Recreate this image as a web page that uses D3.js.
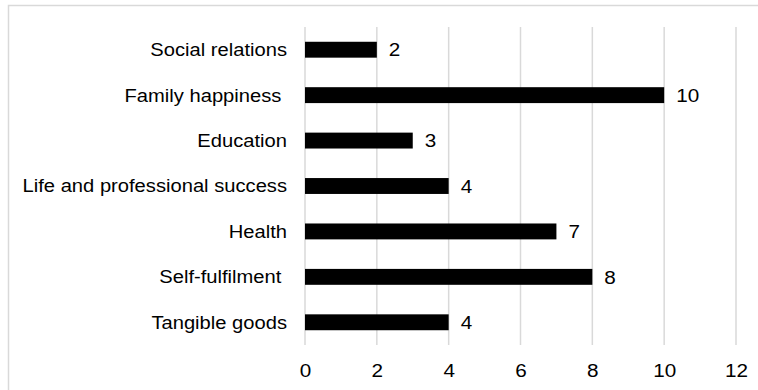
<!DOCTYPE html>
<html>
<head>
<meta charset="utf-8">
<script src="https://cdn.jsdelivr.net/npm/d3@7"></script>
<style>
  body { margin: 0; background: #fff; }
  text { font-family: "Liberation Sans", Arial, sans-serif; fill: #000; white-space: pre; }
</style>
</head>
<body>
<script>
// categories top to bottom, with their values
var categories = ["Social relations", "Family happiness ", "Education",
  "Life and professional success", "Health", "Self-fulfilment ", "Tangible goods"];
var values = [2, 10, 3, 4, 7, 8, 4];
var xTicks = [0, 2, 4, 6, 8, 10, 12];

var W = 758, H = 390;
var margin = {top: 27, right: 22, bottom: 45, left: 305};
var width = W - margin.left - margin.right,
    height = H - margin.top - margin.bottom;
var stretch = 1.09; // text in the original is a bit wider than Arial

var svg = d3.select("body").append("svg")
    .attr("width", W)
    .attr("height", H);

// chart border
svg.append("rect")
    .attr("x", 8.5).attr("y", 5.5)
    .attr("width", W).attr("height", H)
    .attr("fill", "none")
    .attr("stroke", "#d9d9d9")
    .attr("stroke-width", 1.5);

var g = svg.append("g")
    .attr("transform", "translate(" + margin.left + "," + margin.top + ")");

var x = d3.scaleLinear().domain([0, 12]).range([0, width]);
var y = d3.scaleBand().domain(categories).range([0, height]).paddingInner(0.65).paddingOuter(0.325);

// gridlines
g.selectAll(".grid")
    .data(xTicks)
  .enter().append("line")
    .attr("class", "grid")
    .attr("x1", function(d) { return x(d); })
    .attr("x2", function(d) { return x(d); })
    .attr("y1", 0)
    .attr("y2", height)
    .attr("stroke", "#d9d9d9")
    .attr("stroke-width", 1.5);

// bars
g.selectAll(".bar")
    .data(values)
  .enter().append("rect")
    .attr("class", "bar")
    .attr("x", x(0))
    .attr("y", function(d, i) { return y(categories[i]); })
    .attr("width", function(d) { return x(d) - x(0); })
    .attr("height", y.bandwidth())
    .attr("fill", "#000");

// value labels
g.selectAll(".val")
    .data(values)
  .enter().append("text")
    .attr("class", "val")
    .attr("transform", function(d, i) {
      return "translate(" + (x(d) + 12) + "," + (y(categories[i]) + y.bandwidth() / 2) + ") scale(" + stretch + ",1)";
    })
    .attr("dy", "0.35em")
    .style("font-size", "19px")
    .text(function(d) { return d; });

// category labels
g.selectAll(".cat")
    .data(categories)
  .enter().append("text")
    .attr("class", "cat")
    .attr("transform", function(d) {
      return "translate(-18," + (y(d) + y.bandwidth() / 2) + ") scale(" + stretch + ",1)";
    })
    .attr("dy", "0.35em")
    .attr("text-anchor", "end")
    .style("font-size", "18.5px")
    .text(function(d) { return d; });

// x axis labels
var xAxis = g.append("g")
    .attr("transform", "translate(0," + height + ")")
    .call(d3.axisBottom(x).tickValues(xTicks).tickSize(0).tickPadding(19));
xAxis.select(".domain").remove();
xAxis.selectAll("text")
    .style("font-size", "19px")
    .style("font-family", "'Liberation Sans', Arial, sans-serif")
    .attr("fill", "#000")
    .attr("transform", "scale(" + stretch + ",1)");
</script>
</body>
</html>
